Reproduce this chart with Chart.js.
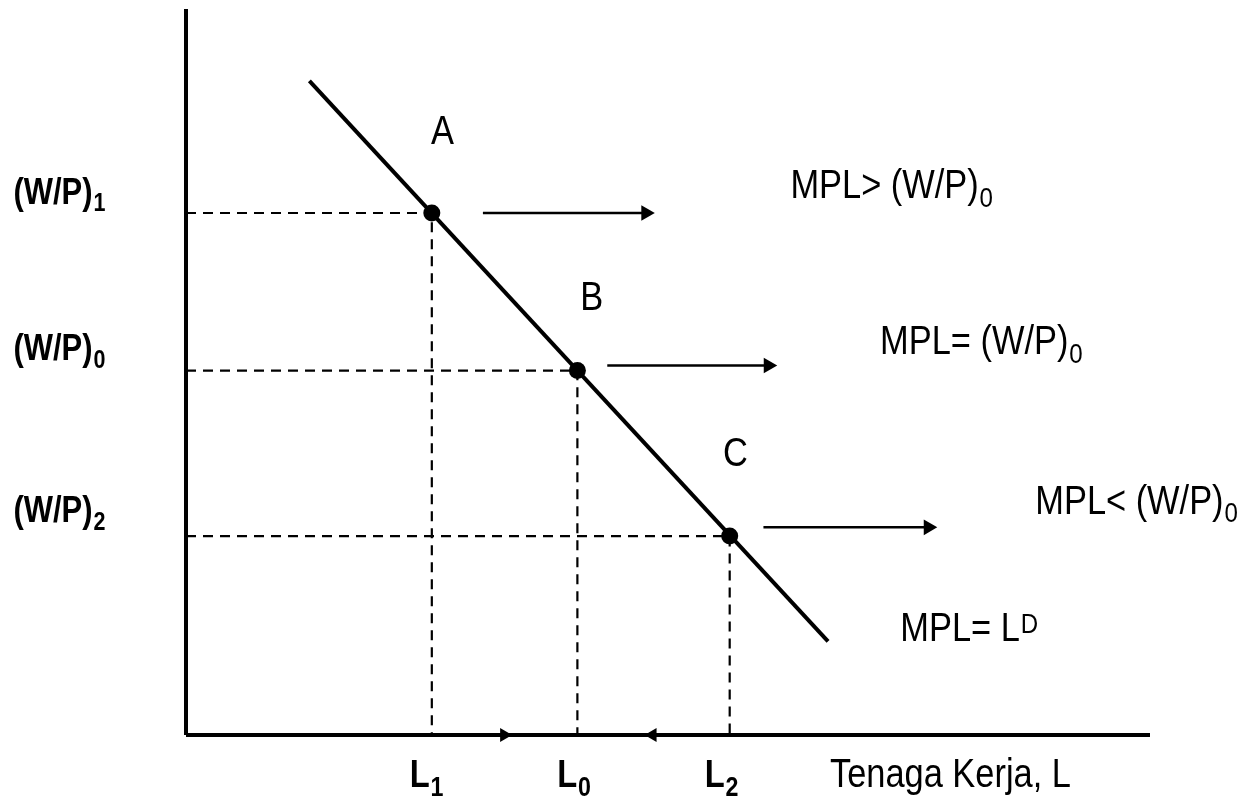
<!DOCTYPE html>
<html>
<head>
<meta charset="utf-8">
<script src="https://cdn.jsdelivr.net/npm/chart.js"></script>
<style>
  body { margin: 0; background: #fff; }
</style>
</head>
<body>
<canvas id="myChart" width="1245" height="802"></canvas>
<script>
// titik keseimbangan (L, W/P)
const pointNames = ['A', 'B', 'C'];
const pointL = [2.55, 4.06, 5.64];
const pointW = [7.19, 5.02, 2.74];

// kurva MPL = L^D
const demandL = [1.28, 6.66];
const demandW = [9.01, 1.29];

// panah ke kanan dari tiap titik
const arrowStartL = [3.08, 4.37, 5.99];
const arrowEndL = [4.77, 6.04, 7.70];
const arrowW = [7.19, 5.09, 2.86];

// panah kecil di sumbu L
const axisArrowL = [3.30, 4.84];
const axisArrowDir = [90, -90];

// label sumbu
const wageTicks = ['(W/P)', '(W/P)', '(W/P)'];
const wageSubs = ['1', '0', '2'];
const laborTicks = ['L', 'L', 'L'];
const laborSubs = ['1', '0', '2'];

const FONT = "'Liberation Sans', Arial, sans-serif";
const NARROW = 0.86; // font arial narrow tidak ada, jadi dipersempit

// teks di dalam grafik
const texts = [
  { t: 'A', x: 2.66, y: 8.14, align: 'center' },
  { t: 'B', x: 4.21, y: 5.86, align: 'center' },
  { t: 'C', x: 5.70, y: 3.71, align: 'center' },
  { t: 'MPL> (W/P)', sub: '0', x: 6.27, y: 7.39 },
  { t: 'MPL= (W/P)', sub: '0', x: 7.20, y: 5.25 },
  { t: 'MPL< (W/P)', sub: '0', x: 8.81, y: 3.05 },
  { t: 'MPL= L', sup: 'D', x: 7.41, y: 1.29 },
  { t: 'Tenaga Kerja, L', x: 6.68, y: -0.72 }
];
const wageTickY = [7.32, 5.16, 2.93];
const laborTickX = [2.32, 3.85, 5.38];
wageTicks.forEach((t, i) => texts.push({ t: t, sub: wageSubs[i], x: -1.79, y: wageTickY[i], bold: true, size: 36 }));
laborTicks.forEach((t, i) => texts.push({ t: t, sub: laborSubs[i], x: laborTickX[i], y: -0.72, bold: true, size: 38 }));

// dataset
const datasets = [];
const lineBase = { showLine: true, borderColor: '#000', pointRadius: 0, clip: false };

// sumbu
datasets.push(Object.assign({}, lineBase, { data: [{x: 0, y: 0}, {x: 0, y: 10}], borderWidth: 4 }));
datasets.push(Object.assign({}, lineBase, { data: [{x: 0, y: 0}, {x: 10, y: 0}], borderWidth: 4 }));

// garis putus-putus
pointL.forEach((l, i) => {
  datasets.push(Object.assign({}, lineBase, {
    data: [{x: 0, y: pointW[i]}, {x: l, y: pointW[i]}, {x: l, y: 0}],
    borderWidth: 2.2, borderDash: [10, 7]
  }));
});

// kurva permintaan
datasets.push(Object.assign({}, lineBase, {
  data: demandL.map((l, i) => ({x: l, y: demandW[i]})),
  borderWidth: 4
}));

// titik A B C
datasets.push({
  data: pointL.map((l, i) => ({x: l, y: pointW[i]})),
  showLine: false, clip: false, pointRadius: 8.5, pointBackgroundColor: '#000', pointBorderWidth: 0
});

// panah
arrowStartL.forEach((s, i) => {
  datasets.push(Object.assign({}, lineBase, {
    data: [{x: s, y: arrowW[i]}, {x: arrowEndL[i], y: arrowW[i]}],
    borderWidth: 2.5,
    pointStyle: 'triangle', pointRadius: [0, 9], pointRotation: 90,
    pointBackgroundColor: '#000', pointBorderWidth: 0
  }));
});

// panah di sumbu
datasets.push({
  data: axisArrowL.map(l => ({x: l, y: 0})),
  showLine: false, clip: false, pointStyle: 'triangle', pointRadius: 8, pointRotation: axisArrowDir,
  pointBackgroundColor: '#000', pointBorderWidth: 0
});

// plugin untuk teks
const textPlugin = {
  id: 'texts',
  afterDatasetsDraw(chart) {
    const ctx = chart.ctx;
    const xs = chart.scales.x, ys = chart.scales.y;
    ctx.fillStyle = '#000';
    ctx.textBaseline = 'alphabetic';
    ctx.textAlign = 'left';
    texts.forEach(item => {
      const size = item.size || 40;
      const weight = item.bold ? 'bold ' : '';
      ctx.save();
      ctx.font = weight + size + 'px ' + FONT;
      let px = xs.getPixelForValue(item.x);
      const py = ys.getPixelForValue(item.y);
      const w = ctx.measureText(item.t).width * NARROW;
      if (item.align === 'center') px -= w / 2;
      ctx.translate(px, py);
      ctx.scale(NARROW, 1);
      ctx.fillText(item.t, 0, 0);
      const wx = w / NARROW + 1;
      if (item.sub) {
        ctx.font = weight + Math.round(size * 0.7) + 'px ' + FONT;
        ctx.fillText(item.sub, wx, size * 0.22);
      }
      if (item.sup) {
        ctx.font = weight + Math.round(size * 0.7) + 'px ' + FONT;
        ctx.fillText(item.sup, wx, -size * 0.22);
      }
      ctx.restore();
    });
  }
};

const config = {
  type: 'scatter',
  data: { datasets: datasets },
  options: {
    responsive: false,
    animation: false,
    devicePixelRatio: 1,
    layout: { padding: { left: 186, right: 95, top: 8, bottom: 67 } },
    plugins: { legend: { display: false }, tooltip: { enabled: false } },
    elements: { line: { tension: 0 } },
    scales: {
      x: { type: 'linear', min: 0, max: 10, display: false },
      y: { type: 'linear', min: 0, max: 10, display: false }
    }
  },
  plugins: [textPlugin]
};

const myChart = new Chart(document.getElementById('myChart'), config);
</script>
</body>
</html>
